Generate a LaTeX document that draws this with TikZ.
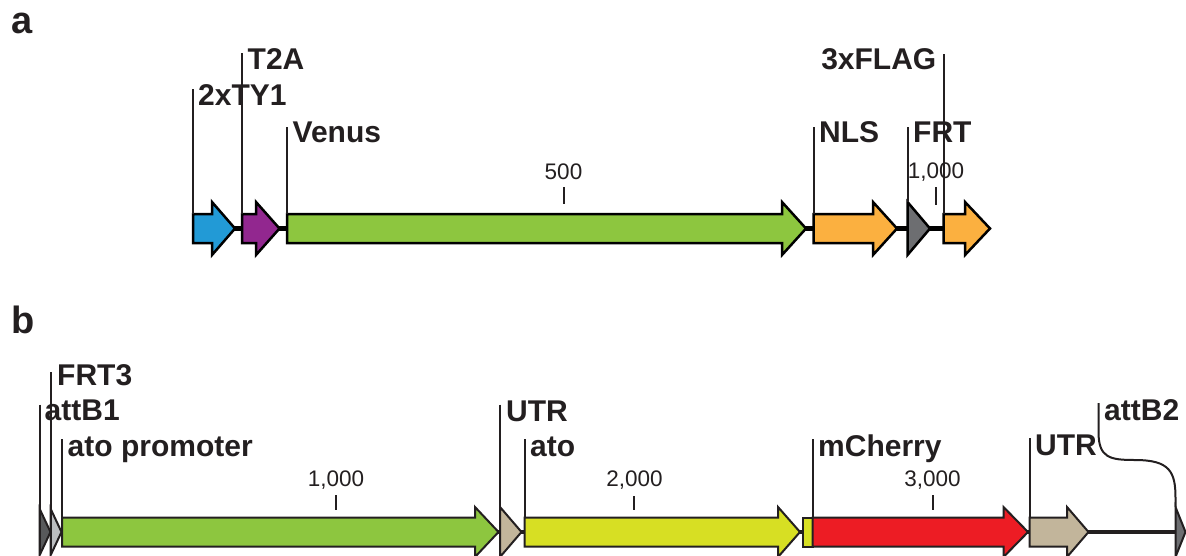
\documentclass[tikz,border=0pt]{standalone}
\usepackage{fontspec}
\setmainfont{Liberation Sans}
\definecolor{ink}{HTML}{231F20}
\definecolor{cblue}{HTML}{229AD6}
\definecolor{cpurple}{HTML}{92278F}
\definecolor{cgreen}{HTML}{8DC63F}
\definecolor{corange}{HTML}{FBB040}
\definecolor{cdgray}{HTML}{6D6E71}
\definecolor{cdgrayb}{HTML}{58595B}
\definecolor{clgray}{HTML}{BCBEC0}
\definecolor{ctan}{HTML}{C2B59B}
\definecolor{cyel}{HTML}{D7DF23}
\definecolor{cred}{HTML}{ED1C24}
\tikzset{
  garrA/.style={draw=black, line width=2.5pt, line join=miter},
  garrB/.style={draw=ink, line width=2pt, line join=miter},
  bbA/.style={draw=black, line width=4.5pt},
  bbB/.style={draw=ink, line width=4pt},
  lead/.style={draw=ink, line width=2pt},
  tick/.style={draw=ink, line width=2pt},
  feat/.style={anchor=base west, inner sep=0pt, text=ink, font=\fontsize{30}{30}\selectfont\bfseries},
  num/.style={anchor=base, inner sep=0pt, text=ink, font=\fontsize{22.5}{22.5}\selectfont},
  panel/.style={anchor=base west, inner sep=0pt, text=ink, font=\fontsize{38}{38}\selectfont\bfseries},
}
% #1 start, #2 head start, #3 tip, #4 centre y, #5 colour, #6 body half, #7 head half, #8 style
\newcommand\genearrow[8]{%
  \path[#8, fill=#5] (#1,#4-#6) -- (#2,#4-#6) -- (#2,#4-#7) -- (#3,#4) -- (#2,#4+#7) -- (#2,#4+#6) -- (#1,#4+#6) -- cycle;}
% #1 start, #2 tip, #3 centre y, #4 colour, #5 half, #6 style
\newcommand\genetri[6]{%
  \path[#6, fill=#4] (#1,#3-#5) -- (#2,#3) -- (#1,#3+#5) -- cycle;}
\begin{document}
\begin{tikzpicture}[x=1pt, y=-1pt]
\useasboundingbox (0,0) rectangle (1186,555);
\clip (0,0) rectangle (1186,555);

% ---------------- panel a ----------------
\node[panel] (pa) at (11,33) {a};

\coordinate (bbAs) at (200,228.5);
\coordinate (bbAe) at (975,228.5);
\draw[bbA] (bbAs) -- (bbAe);

\genearrow{193}{212}{235}{228.5}{cblue}{14.5}{26.5}{garrA}
\genearrow{242}{256}{279.5}{228.5}{cpurple}{14.5}{26.5}{garrA}
\genearrow{287}{782}{806}{228.5}{cgreen}{14.5}{26.5}{garrA}
\genearrow{813.5}{873}{897}{228.5}{corange}{14.5}{26.5}{garrA}
\genetri{907.5}{930}{228.5}{cdgray}{26.5}{garrA}
\genearrow{943.5}{965}{990}{228.5}{corange}{14.5}{26.5}{garrA}

% leader lines and labels, panel a
\node[feat] (tTY) at (198,105.5) {2xTY1};
\coordinate (lTYt) at (193,89); \coordinate (lTYb) at (193,214);
\draw[lead] (lTYt) -- (lTYb);

\node[feat] (tT2A) at (247.5,69) {T2A};
\coordinate (lT2At) at (242,53); \coordinate (lT2Ab) at (242,214);
\draw[lead] (lT2At) -- (lT2Ab);

\node[feat] (tVen) at (292.5,142.5) {Venus};
\coordinate (lVent) at (287,127); \coordinate (lVenb) at (287,214);
\draw[lead] (lVent) -- (lVenb);

\node[feat] (tNLS) at (819,142.5) {NLS};
\coordinate (lNLSt) at (813.5,127); \coordinate (lNLSb) at (813.5,214);
\draw[lead] (lNLSt) -- (lNLSb);

\node[feat] (tFRT) at (913,142.5) {FRT};
\coordinate (lFRTt) at (907.5,127); \coordinate (lFRTb) at (907.5,202);
\draw[lead] (lFRTt) -- (lFRTb);

\node[feat, anchor=base east] (tFLAG) at (936.5,69) {3xFLAG};
\coordinate (lFLAGt) at (943.5,54); \coordinate (lFLAGb) at (943.5,214);
\draw[lead] (lFLAGt) -- (lFLAGb);

% ticks, panel a
\node[num] (n500) at (563.5,179) {500};
\coordinate (k500t) at (563.5,187); \coordinate (k500b) at (563.5,204);
\draw[tick] (k500t) -- (k500b);

\node[num] (n1000a) at (936,178.5) {1,000};
\coordinate (k1000at) at (935.5,187); \coordinate (k1000ab) at (935.5,205);
\draw[tick] (k1000at) -- (k1000ab);

% ---------------- panel b ----------------
\node[panel] (pb) at (11,333) {b};

\coordinate (bbBs) at (40,532);
\coordinate (bbBe) at (1178,532);
\draw[bbB] (bbBs) -- (bbBe);

\genetri{39.5}{50.5}{532}{cdgrayb}{23.5}{garrB}
\genetri{50.5}{61.5}{532}{clgray}{23.5}{garrB}
\genearrow{62}{475}{498.5}{532}{cgreen}{14.5}{25}{garrB}
\genetri{500}{521.5}{532}{ctan}{25}{garrB}
\genearrow{524.5}{778}{800}{532}{cyel}{14.5}{25}{garrB}
\path[garrB, fill=cyel] (803,517.5) rectangle (812.5,546.5);
\genearrow{812.5}{1003.5}{1028}{532}{cred}{14.5}{25}{garrB}
\genearrow{1029.5}{1067}{1088.5}{532}{ctan}{14.5}{25}{garrB}
\genetri{1175.5}{1185.5}{532}{cdgray}{25}{garrB}

% leader lines and labels, panel b
\node[feat] (tFRT3) at (57,385.5) {FRT3};
\coordinate (lFRT3t) at (50.5,372); \coordinate (lFRT3b) at (50.5,555);
\draw[lead] (lFRT3t) -- (lFRT3b);

\node[feat] (tattB1) at (44.5,420.5) {attB1};
\coordinate (lattB1t) at (39.5,404.5); \coordinate (lattB1b) at (39.5,555);
\draw[lead] (lattB1t) -- (lattB1b);

\node[feat] (tprom) at (67.5,456.5) {ato promoter};
\coordinate (lpromt) at (62,439); \coordinate (lpromb) at (62,517.5);
\draw[lead] (lpromt) -- (lpromb);

\node[feat] (tUTR1) at (506,421) {UTR};
\coordinate (lUTR1t) at (500,404.5); \coordinate (lUTR1b) at (500,555);
\draw[lead] (lUTR1t) -- (lUTR1b);

\node[feat] (tato) at (530,456.5) {ato};
\coordinate (latot) at (524.5,439); \coordinate (latob) at (524.5,517.5);
\draw[lead] (latot) -- (latob);

\node[feat] (tmCh) at (818,456.5) {mCherry};
\coordinate (lmCht) at (812.5,439); \coordinate (lmChb) at (812.5,517.5);
\draw[lead] (lmCht) -- (lmChb);

\node[feat] (tUTR2) at (1035,455.5) {UTR};
\coordinate (lUTR2t) at (1029.5,438); \coordinate (lUTR2b) at (1029.5,517.5);
\draw[lead] (lUTR2t) -- (lUTR2b);

\node[feat] (tattB2) at (1104,420) {attB2};
\coordinate (lattB2t) at (1098.5,403); \coordinate (lattB2b) at (1175.5,507);
\draw[lead] (lattB2t) -- (1098.5,432) .. controls (1098.5,458) and (1110,460) .. (1135,460)
  .. controls (1170,460) and (1175.5,472) .. (1175.5,498) -- (lattB2b);

% ticks, panel b
\node[num] (n1000b) at (336,486) {1,000};
\coordinate (k1000bt) at (336,495); \coordinate (k1000bb) at (336,510);
\draw[tick] (k1000bt) -- (k1000bb);

\node[num] (n2000) at (634.5,486.5) {2,000};
\coordinate (k2000t) at (634,496); \coordinate (k2000b) at (634,510);
\draw[tick] (k2000t) -- (k2000b);

\node[num] (n3000) at (932.5,486) {3,000};
\coordinate (k3000t) at (932.5,495); \coordinate (k3000b) at (932.5,510);
\draw[tick] (k3000t) -- (k3000b);
\end{tikzpicture}
\end{document}
